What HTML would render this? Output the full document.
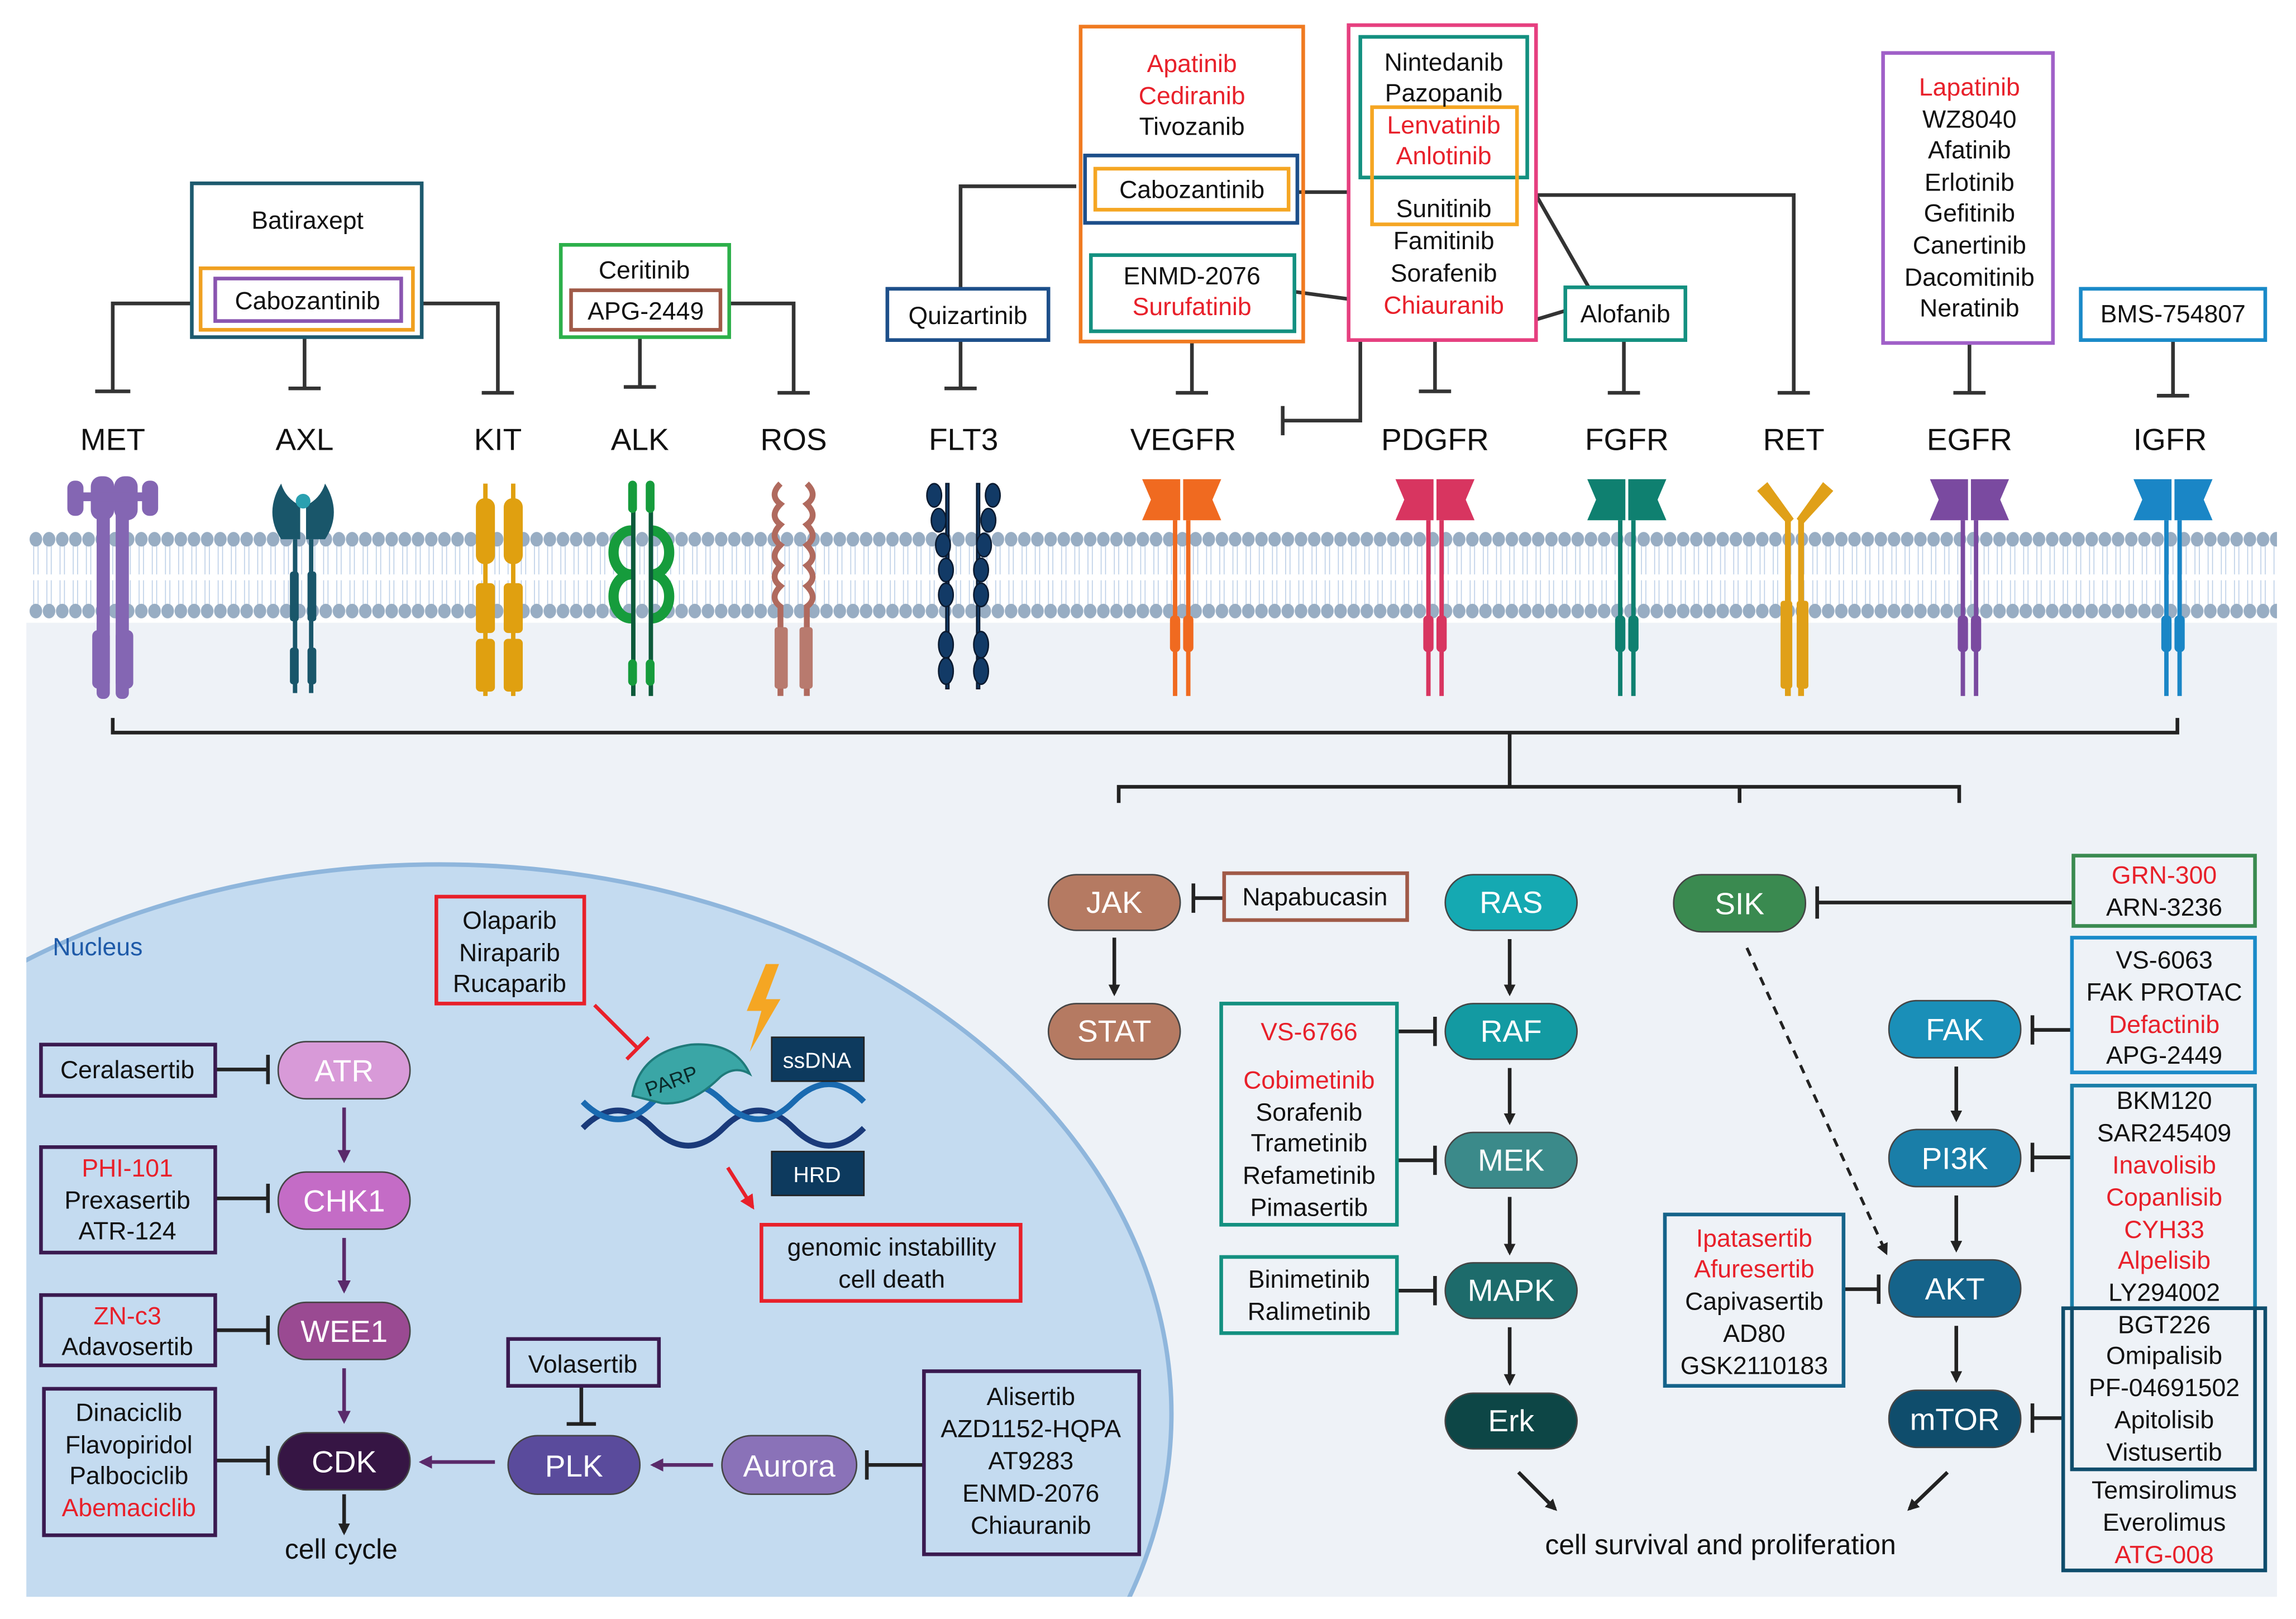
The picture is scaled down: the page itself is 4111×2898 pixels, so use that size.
<!DOCTYPE html>
<html><head><meta charset="utf-8"><style>
html,body{margin:0;padding:0;background:#fff;width:4111px;height:2898px;overflow:hidden;}
svg{display:block;}
text{font-family:"Liberation Sans",Arial,sans-serif;}
</style></head><body>
<svg width="4111" height="2898" viewBox="0 0 1568 1105" xmlns="http://www.w3.org/2000/svg">
<defs>
<pattern id="mem" x="20" y="359" width="9" height="70" patternUnits="userSpaceOnUse">
<line x1="3" y1="12" x2="3" y2="33" stroke="#b9cde6" stroke-width="0.6"/>
<line x1="6" y1="12" x2="6" y2="33" stroke="#b9cde6" stroke-width="0.6"/>
<line x1="3" y1="37" x2="3" y2="55" stroke="#b9cde6" stroke-width="0.6"/>
<line x1="6" y1="37" x2="6" y2="55" stroke="#b9cde6" stroke-width="0.6"/>
<ellipse cx="4.5" cy="9" rx="4.3" ry="5" fill="#98adc3"/>
<ellipse cx="4.5" cy="58" rx="4.3" ry="5" fill="#98adc3"/>
</pattern>
<clipPath id="panel"><rect x="18" y="425" width="1537" height="665"/></clipPath>
<marker id="ar" markerWidth="8" markerHeight="8" refX="6" refY="4" orient="auto" markerUnits="userSpaceOnUse"><path d="M0,0 L8,4 L0,8 z" fill="#222"/></marker>
<marker id="arp" markerWidth="9" markerHeight="9" refX="7" refY="4.5" orient="auto" markerUnits="userSpaceOnUse"><path d="M0,0 L9,4.5 L0,9 z" fill="#5a2a6a"/></marker>
<marker id="arr" markerWidth="10" markerHeight="10" refX="8" refY="5" orient="auto" markerUnits="userSpaceOnUse"><path d="M0,0 L10,5 L0,10 z" fill="#e8202a"/></marker>
</defs>

<rect x="18" y="425" width="1537" height="665" fill="#eef2f7"/>
<g clip-path="url(#panel)">
<ellipse cx="300" cy="965" rx="500" ry="375" fill="#c4dbf0" stroke="#8fb6dc" stroke-width="3"/>
</g>
<rect x="20" y="359" width="1535" height="70" fill="url(#mem)"/>

<g>
<g fill="#8466b3">
<rect x="66" y="327" width="9" height="150" rx="4"/><rect x="79" y="327" width="9" height="150" rx="4"/>
<rect x="62" y="325" width="16" height="30" rx="7"/><rect x="78" y="325" width="16" height="30" rx="7"/>
<rect x="46" y="328" width="11" height="24" rx="5"/><rect x="97" y="328" width="11" height="24" rx="5"/>
<rect x="55" y="336" width="45" height="6"/>
<rect x="63" y="430" width="12" height="40" rx="4"/><rect x="79" y="430" width="12" height="40" rx="4"/>
</g>
<g fill="#19566a">
<path d="M192,330 Q180,350 192,368 L205,368 L205,345 Q195,340 192,330z"/>
<path d="M222,330 Q234,350 222,368 L209,368 L209,345 Q219,340 222,330z"/>
<circle cx="207" cy="342" r="5" fill="#2aa0b0"/>
<rect x="200" y="368" width="3" height="105"/><rect x="211" y="368" width="3" height="105"/>
<rect x="198" y="390" width="6" height="34" rx="2"/><rect x="210" y="390" width="6" height="34" rx="2"/>
<rect x="198" y="442" width="6" height="25" rx="2"/><rect x="210" y="442" width="6" height="25" rx="2"/>
</g>
<g fill="#e0a010">
<rect x="330" y="330" width="3" height="145"/><rect x="349" y="330" width="3" height="145"/>
<rect x="325" y="340" width="13" height="45" rx="6"/><rect x="344" y="340" width="13" height="45" rx="6"/>
<rect x="325" y="398" width="13" height="34" rx="3"/><rect x="344" y="398" width="13" height="34" rx="3"/>
<rect x="325" y="436" width="13" height="36" rx="3"/><rect x="344" y="436" width="13" height="36" rx="3"/>
</g>
<g fill="none" stroke="#169c3c" stroke-width="7">
<path d="M431,362 A12,15 0 1,0 431,392 M431,392 A12,15 0 1,0 431,422"/>
<path d="M445,362 A12,15 0 1,1 445,392 M445,392 A12,15 0 1,1 445,422"/>
</g>
<g fill="#0c5a3a"><rect x="431" y="330" width="3" height="145"/><rect x="443" y="330" width="3" height="145"/></g>
<g fill="#169c3c"><rect x="429" y="328" width="6" height="22" rx="3"/><rect x="441" y="328" width="6" height="22" rx="3"/>
<rect x="429" y="450" width="6" height="18" rx="3"/><rect x="441" y="450" width="6" height="18" rx="3"/></g>
<g fill="none" stroke="#b06a5e" stroke-width="4">
<path d="M533,330 q-8,8 0,14 q-8,8 0,14 q-8,8 0,14 q-8,8 0,14 q-8,8 0,14 q-8,8 0,14 L533,475"/>
<path d="M551,330 q8,8 0,14 q8,8 0,14 q8,8 0,14 q8,8 0,14 q8,8 0,14 q8,8 0,14 L551,475"/>
</g>
<g fill="#b87a6e"><rect x="529" y="428" width="9" height="42" rx="2"/><rect x="546" y="428" width="9" height="42" rx="2"/></g>
<g fill="#123a66" stroke="#0a1a30" stroke-width="1">
<rect x="646" y="330" width="2" height="140"/><rect x="667" y="330" width="2" height="140"/>
<ellipse cx="638" cy="338" rx="5" ry="8"/><ellipse cx="678" cy="338" rx="5" ry="8"/>
<ellipse cx="641" cy="355" rx="5" ry="8"/><ellipse cx="675" cy="355" rx="5" ry="8"/>
<ellipse cx="644" cy="372" rx="5" ry="8"/><ellipse cx="672" cy="372" rx="5" ry="8"/>
<ellipse cx="646" cy="389" rx="5" ry="8"/><ellipse cx="670" cy="389" rx="5" ry="8"/>
<ellipse cx="646" cy="406" rx="5" ry="8"/><ellipse cx="670" cy="406" rx="5" ry="8"/>
<ellipse cx="646" cy="440" rx="5" ry="9"/><ellipse cx="670" cy="440" rx="5" ry="9"/>
<ellipse cx="646" cy="458" rx="5" ry="9"/><ellipse cx="670" cy="458" rx="5" ry="9"/>
</g>
</g>
<g>
<g fill="#f06a20"><path d="M780,327 h26 v28 h-26 l6,-14z"/><path d="M834,327 h-26 v28 h26 l-6,-14z"/>
<rect x="801" y="355" width="3" height="120"/><rect x="810" y="355" width="3" height="120"/>
<rect x="799" y="420" width="7" height="25" rx="3"/><rect x="808" y="420" width="7" height="25" rx="3"/></g>
<g fill="#d83560"><path d="M953,327 h26 v28 h-26 l6,-14z"/><path d="M1007,327 h-26 v28 h26 l-6,-14z"/>
<rect x="974" y="355" width="3" height="120"/><rect x="983" y="355" width="3" height="120"/>
<rect x="972" y="420" width="7" height="25" rx="3"/><rect x="981" y="420" width="7" height="25" rx="3"/></g>
<g fill="#0f8070"><path d="M1084,327 h26 v28 h-26 l6,-14z"/><path d="M1138,327 h-26 v28 h26 l-6,-14z"/>
<rect x="1105" y="355" width="3" height="120"/><rect x="1114" y="355" width="3" height="120"/>
<rect x="1103" y="420" width="7" height="25" rx="3"/><rect x="1112" y="420" width="7" height="25" rx="3"/></g>
<g fill="#e0a018"><path d="M1200,335 l7,-6 l18,25 l-4,4z"/><path d="M1252,335 l-7,-6 l-18,25 l4,4z"/>
<rect x="1219" y="355" width="4" height="120"/><rect x="1228" y="355" width="4" height="120"/>
<rect x="1216" y="410" width="8" height="60" rx="2"/><rect x="1227" y="410" width="8" height="60" rx="2"/></g>
<g fill="#7a4aa0"><path d="M1318,327 h26 v28 h-26 l6,-14z"/><path d="M1372,327 h-26 v28 h26 l-6,-14z"/>
<rect x="1339" y="355" width="3" height="120"/><rect x="1348" y="355" width="3" height="120"/>
<rect x="1337" y="420" width="7" height="25" rx="3"/><rect x="1346" y="420" width="7" height="25" rx="3"/></g>
<g fill="#1a86c6"><path d="M1457,327 h26 v28 h-26 l6,-14z"/><path d="M1511,327 h-26 v28 h26 l-6,-14z"/>
<rect x="1478" y="355" width="3" height="120"/><rect x="1487" y="355" width="3" height="120"/>
<rect x="1476" y="420" width="7" height="25" rx="3"/><rect x="1485" y="420" width="7" height="25" rx="3"/></g>
</g>

<g font-size="21" text-anchor="middle" fill="#111">
<text x="77" y="307">MET</text><text x="208" y="307">AXL</text><text x="340" y="307">KIT</text>
<text x="437" y="307">ALK</text><text x="542" y="307">ROS</text><text x="658" y="307">FLT3</text>
<text x="808" y="307">VEGFR</text><text x="980" y="307">PDGFR</text><text x="1111" y="307">FGFR</text>
<text x="1225" y="307">RET</text><text x="1345" y="307">EGFR</text><text x="1482" y="307">IGFR</text>
</g>

<g fill="none" stroke="#333" stroke-width="2.5">
<path d="M131,207 H77 V267"/><path d="M65,267 H89"/>
<path d="M208,230 V265"/><path d="M197,265 H219"/>
<path d="M288,207 H340 V268"/><path d="M329,268 H351"/>
<path d="M437,230 V264"/><path d="M426,264 H448"/>
<path d="M498,207 H542 V268"/><path d="M531,268 H553"/>
<path d="M656,197 V127 H735"/><path d="M656,232 V265"/><path d="M645,265 H667"/>
<path d="M814,233 V268"/><path d="M803,268 H825"/>
<path d="M884,199 L921,204"/>
<path d="M929,232 V287 H876"/><path d="M876,277 V297"/>
<path d="M980,232 V267"/><path d="M969,267 H991"/>
<path d="M886,131 H921"/><path d="M1049,133 H1225 V268"/><path d="M1214,268 H1236"/>
<path d="M1049,133 L1085,196"/><path d="M1049,218 L1069,212"/>
<path d="M1109,232 V268"/><path d="M1098,268 H1120"/>
<path d="M1345,234 V268"/><path d="M1334,268 H1356"/>
<path d="M1484,232 V270"/><path d="M1473,270 H1495"/>
</g>

<g fill="none" stroke-width="2.5">
<rect x="131" y="125" width="157" height="105" stroke="#1d5a6e"/>
<rect x="137" y="183" width="145" height="42" stroke="#f0a020"/>
<rect x="147" y="190" width="127" height="29" stroke="#8a55b0"/>
<rect x="383" y="167" width="115" height="63" stroke="#2cb04a"/>
<rect x="390" y="198" width="102" height="27" stroke="#a05a48"/>
<rect x="606" y="197" width="110" height="35" stroke="#1d4f8a"/>
<rect x="738" y="18" width="152" height="215" stroke="#f07a20"/>
<rect x="741" y="106" width="145" height="46" stroke="#1d4f8a"/>
<rect x="748" y="115" width="132" height="28" stroke="#f5a623"/>
<rect x="745" y="174" width="139" height="52" stroke="#139080"/>
<rect x="921" y="17" width="128" height="215" stroke="#e64080"/>
<rect x="929" y="25" width="114" height="96" stroke="#139080"/>
<rect x="937" y="73" width="99" height="80" stroke="#f5a623"/>
<rect x="1069" y="196" width="82" height="36" stroke="#139080"/>
<rect x="1286" y="36" width="116" height="198" stroke="#a060c8"/>
<rect x="1421" y="197" width="126" height="35" stroke="#1a8ac8"/>
</g>
<g font-size="17" text-anchor="middle" fill="#111">
<text x="210" y="156">Batiraxept</text><text x="210" y="211">Cabozantinib</text>
<text x="440" y="190">Ceritinib</text><text x="441" y="218">APG-2449</text>
<text x="661" y="221">Quizartinib</text>
<text x="814" y="49" fill="#e8202a">Apatinib</text><text x="814" y="71" fill="#e8202a">Cediranib</text><text x="814" y="92">Tivozanib</text>
<text x="814" y="135">Cabozantinib</text>
<text x="814" y="194">ENMD-2076</text><text x="814" y="215" fill="#e8202a">Surufatinib</text>
<text x="986" y="48">Nintedanib</text><text x="986" y="69">Pazopanib</text>
<text x="986" y="91" fill="#e8202a">Lenvatinib</text><text x="986" y="112" fill="#e8202a">Anlotinib</text>
<text x="986" y="148">Sunitinib</text><text x="986" y="170">Famitinib</text>
<text x="986" y="192">Sorafenib</text><text x="986" y="214" fill="#e8202a">Chiauranib</text>
<text x="1110" y="220">Alofanib</text>
<text x="1345" y="65" fill="#e8202a">Lapatinib</text><text x="1345" y="87">WZ8040</text><text x="1345" y="108">Afatinib</text>
<text x="1345" y="130">Erlotinib</text><text x="1345" y="151">Gefitinib</text><text x="1345" y="173">Canertinib</text>
<text x="1345" y="195">Dacomitinib</text><text x="1345" y="216">Neratinib</text>
<text x="1484" y="220">BMS-754807</text>
</g>

<g fill="none" stroke="#222" stroke-width="2.5">
<path d="M77,490 V500 H1487 V490"/>
<path d="M1031,500 V537"/>
<path d="M764,548 V537 H1338 V548"/><path d="M1188,537 V548"/>
</g>

<text x="36" y="652" font-size="17" fill="#1e5aa8">Nucleus</text>

<g font-size="21" text-anchor="middle" fill="#fff" stroke="#444" stroke-width="1">
<rect x="716" y="597" width="90" height="38" rx="19" fill="#b57a62"/>
<rect x="716" y="685" width="90" height="38" rx="19" fill="#b57a62"/>
<rect x="987" y="597" width="90" height="38" rx="19" fill="#15a9b2"/>
<rect x="987" y="685" width="90" height="38" rx="19" fill="#139aa2"/>
<rect x="987" y="773" width="90" height="38" rx="19" fill="#3b8a8a"/>
<rect x="987" y="862" width="90" height="38" rx="19" fill="#1d6b6b"/>
<rect x="987" y="951" width="90" height="38" rx="19" fill="#0d4646"/>
<rect x="1143" y="597" width="90" height="39" rx="19" fill="#3a8a50"/>
<rect x="1290" y="683" width="90" height="39" rx="19" fill="#1a8fb8"/>
<rect x="1290" y="771" width="90" height="39" rx="19" fill="#1a7ea8"/>
<rect x="1290" y="860" width="90" height="39" rx="19" fill="#15638a"/>
<rect x="1290" y="949" width="90" height="39" rx="19" fill="#0f4d6c"/>
<rect x="190" y="711" width="90" height="39" rx="19" fill="#d89ad8"/>
<rect x="190" y="800" width="90" height="39" rx="19" fill="#c46cc6"/>
<rect x="190" y="889" width="90" height="39" rx="19" fill="#9a4a92"/>
<rect x="190" y="978" width="90" height="39" rx="19" fill="#361544"/>
<rect x="347" y="980" width="90" height="40" rx="20" fill="#5a4b9c"/>
<rect x="493" y="980" width="92" height="40" rx="20" fill="#8a72b8"/>
</g>
<g font-size="21" text-anchor="middle" fill="#fff">
<text x="761" y="623">JAK</text><text x="761" y="711">STAT</text>
<text x="1032" y="623">RAS</text><text x="1032" y="711">RAF</text><text x="1032" y="799">MEK</text>
<text x="1032" y="888">MAPK</text><text x="1032" y="977">Erk</text>
<text x="1188" y="624">SIK</text><text x="1335" y="710">FAK</text><text x="1335" y="798">PI3K</text>
<text x="1335" y="887">AKT</text><text x="1335" y="976">mTOR</text>
<text x="235" y="738">ATR</text><text x="235" y="827">CHK1</text><text x="235" y="916">WEE1</text><text x="235" y="1005">CDK</text>
<text x="392" y="1008">PLK</text><text x="539" y="1008">Aurora</text>
</g>

<g stroke="#222" stroke-width="2.5" fill="none" marker-end="url(#ar)">
<path d="M761,640 V678"/>
<path d="M1031,641 V678"/><path d="M1031,729 V766"/><path d="M1031,817 V855"/><path d="M1031,906 V944"/>
<path d="M1336,728 V764"/><path d="M1336,816 V853"/><path d="M1336,905 V942"/>
<path d="M1037,1005 L1062,1030"/><path d="M1330,1005 L1304,1030"/>
<path d="M235,1020 V1046"/>
</g>
<path d="M1193,647 L1288,855" stroke="#222" stroke-width="2" stroke-dasharray="6,5" fill="none" marker-end="url(#ar)"/>
<g stroke="#5a2a6a" stroke-width="2.5" fill="none" marker-end="url(#arp)">
<path d="M235,756 V792"/><path d="M235,845 V881"/><path d="M235,934 V970"/>
<path d="M338,998 H288"/><path d="M487,1000 H446"/>
</g>

<g stroke="#222" stroke-width="2.5" fill="none">
<path d="M836,613 H815"/><path d="M815,603 V623"/>
<path d="M954,704 H980"/><path d="M980,694 V714"/>
<path d="M954,792 H980"/><path d="M980,782 V802"/>
<path d="M954,881 H980"/><path d="M980,871 V891"/>
<path d="M1416,616 H1241"/><path d="M1241,605 V627"/>
<path d="M1415,703 H1388"/><path d="M1388,693 V713"/>
<path d="M1415,790 H1388"/><path d="M1388,780 V800"/>
<path d="M1409,968 H1388"/><path d="M1388,958 V978"/>
<path d="M1259,880 H1283"/><path d="M1283,870 V890"/>
<path d="M147,730 H183"/><path d="M183,720 V740"/>
<path d="M147,818 H183"/><path d="M183,808 V828"/>
<path d="M147,908 H183"/><path d="M183,898 V918"/>
<path d="M147,997 H183"/><path d="M183,987 V1007"/>
<path d="M397,946 V972"/><path d="M387,972 H407"/>
<path d="M631,1000 H592"/><path d="M592,990 V1010"/>
</g>

<g fill="none" stroke-width="2.5">
<rect x="836" y="596" width="125" height="32" stroke="#a05a48"/>
<rect x="834" y="685" width="120" height="151" stroke="#139080"/>
<rect x="834" y="858" width="120" height="52" stroke="#139080"/>
<rect x="1416" y="584" width="124" height="48" stroke="#3a8a50"/>
<rect x="1415" y="640" width="125" height="92" stroke="#1a8ac8"/>
<rect x="1415" y="741" width="125" height="152" stroke="#1a7ea8"/>
<rect x="1409" y="893" width="138" height="179" stroke="#0f4d6c"/>
<rect x="1415" y="893" width="125" height="110" stroke="#0f4d6c"/>
<rect x="1137" y="829" width="122" height="117" stroke="#15638a"/>
<rect x="28" y="713" width="119" height="35" stroke="#3a1a50"/>
<rect x="28" y="783" width="119" height="72" stroke="#3a1a50"/>
<rect x="28" y="884" width="119" height="48" stroke="#3a1a50"/>
<rect x="30" y="948" width="117" height="100" stroke="#3a1a50"/>
<rect x="347" y="914" width="103" height="32" stroke="#3a1a50"/>
<rect x="631" y="936" width="147" height="125" stroke="#3a1a50"/>
<rect x="298" y="612" width="101" height="73" stroke="#e8202a"/>
<rect x="520" y="836" width="177" height="52" stroke="#e8202a"/>
</g>
<g font-size="17" text-anchor="middle" fill="#111">
<text x="898" y="618">Napabucasin</text>
<text x="894" y="710" fill="#e8202a">VS-6766</text>
<text x="894" y="743" fill="#e8202a">Cobimetinib</text><text x="894" y="765">Sorafenib</text>
<text x="894" y="786">Trametinib</text><text x="894" y="808">Refametinib</text><text x="894" y="830">Pimasertib</text>
<text x="894" y="879">Binimetinib</text><text x="894" y="901">Ralimetinib</text>
<text x="1478" y="603" fill="#e8202a">GRN-300</text><text x="1478" y="625">ARN-3236</text>
<text x="1478" y="661">VS-6063</text><text x="1478" y="683">FAK PROTAC</text>
<text x="1478" y="705" fill="#e8202a">Defactinib</text><text x="1478" y="726">APG-2449</text>
<text x="1478" y="757">BKM120</text><text x="1478" y="779">SAR245409</text>
<text x="1478" y="801" fill="#e8202a">Inavolisib</text><text x="1478" y="823" fill="#e8202a">Copanlisib</text>
<text x="1478" y="845" fill="#e8202a">CYH33</text><text x="1478" y="866" fill="#e8202a">Alpelisib</text>
<text x="1478" y="888">LY294002</text>
<text x="1478" y="910">BGT226</text><text x="1478" y="931">Omipalisib</text><text x="1478" y="953">PF-04691502</text>
<text x="1478" y="975">Apitolisib</text><text x="1478" y="997">Vistusertib</text>
<text x="1478" y="1023">Temsirolimus</text><text x="1478" y="1045">Everolimus</text>
<text x="1478" y="1067" fill="#e8202a">ATG-008</text>
<text x="1198" y="851" fill="#e8202a">Ipatasertib</text><text x="1198" y="872" fill="#e8202a">Afuresertib</text>
<text x="1198" y="894">Capivasertib</text><text x="1198" y="916">AD80</text><text x="1198" y="938">GSK2110183</text>
<text x="87" y="736">Ceralasertib</text>
<text x="87" y="803" fill="#e8202a">PHI-101</text><text x="87" y="825">Prexasertib</text><text x="87" y="846">ATR-124</text>
<text x="87" y="904" fill="#e8202a">ZN-c3</text><text x="87" y="925">Adavosertib</text>
<text x="88" y="970">Dinaciclib</text><text x="88" y="992">Flavopiridol</text>
<text x="88" y="1013">Palbociclib</text><text x="88" y="1035" fill="#e8202a">Abemaciclib</text>
<text x="398" y="937">Volasertib</text>
<text x="704" y="959">Alisertib</text><text x="704" y="981">AZD1152-HQPA</text><text x="704" y="1003">AT9283</text>
<text x="704" y="1025">ENMD-2076</text><text x="704" y="1047">Chiauranib</text>
<text x="348" y="634">Olaparib</text><text x="348" y="656">Niraparib</text><text x="348" y="677">Rucaparib</text>
<text x="609" y="857">genomic instabillity</text><text x="609" y="879">cell death</text>
<text x="233" y="1064" font-size="19">cell cycle</text>
<text x="1175" y="1061" font-size="19">cell survival and proliferation</text>
</g>

<g fill="none" stroke-width="4">
<path d="M398,770 q24,-24 48,0 t48,0 t48,0 t48,0" stroke="#1a3a7a"/>
<path d="M398,752 q24,24 48,0 t48,0 t48,0 t48,0" stroke="#1a6ab0"/>
</g>
<path d="M432,748 q5,-30 40,-35 q30,-2 40,20 q-10,-6 -20,2 q-20,20 -40,18 z" fill="#3aa6a6" stroke="#1f7a7a" stroke-width="1.5"/>
<text x="440" y="743" font-size="14" fill="#0a2a2a" transform="rotate(-20 458 738)">PARP</text>
<path d="M523,658 L510,690 L520,690 L512,718 L533,682 L523,682 L532,658 z" fill="#f5a623"/>
<rect x="527" y="708" width="63" height="30" fill="#0d3a5e" stroke="#222" stroke-width="1"/>
<rect x="527" y="786" width="63" height="30" fill="#0d3a5e" stroke="#222" stroke-width="1"/>
<text x="558" y="729" font-size="15" fill="#fff" text-anchor="middle">ssDNA</text>
<text x="558" y="807" font-size="15" fill="#fff" text-anchor="middle">HRD</text>
<path d="M406,686 L436,716" stroke="#e8202a" stroke-width="2.5"/>
<path d="M428,723 L443,708" stroke="#e8202a" stroke-width="2.5"/>
<path d="M497,797 L514,824" stroke="#e8202a" stroke-width="2.5" marker-end="url(#arr)"/>
</svg>
</body></html>
